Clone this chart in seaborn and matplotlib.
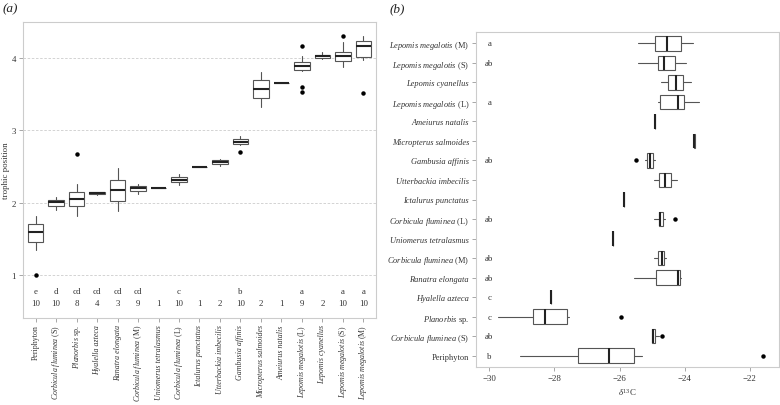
import matplotlib
matplotlib.use("Agg")
import matplotlib.pyplot as plt
import seaborn as sns

# taxa, in the order of panel (a) left to right / panel (b) bottom to top
taxa = [
    "Periphyton",
    r"Corbicula fluminea $\mathrm{(S)}$",
    r"Planorbis $\mathrm{sp.}$",
    "Hyalella azteca",
    "Ranatra elongata",
    r"Corbicula fluminea $\mathrm{(M)}$",
    "Uniomerus tetralasmus",
    r"Corbicula fluminea $\mathrm{(L)}$",
    "Ictalurus punctatus",
    "Utterbackia imbecilis",
    "Gambusia affinis",
    "Micropterus salmoides",
    "Ameiurus natalis",
    r"Lepomis megalotis $\mathrm{(L)}$",
    "Lepomis cyanellus",
    r"Lepomis megalotis $\mathrm{(S)}$",
    r"Lepomis megalotis $\mathrm{(M)}$",
]
n_obs = [10, 10, 8, 4, 3, 9, 1, 10, 1, 2, 10, 2, 1, 9, 2, 10, 10]
tp_letters = ["e", "d", "cd", "cd", "cd", "cd", "", "c", "", "", "b", "", "", "a", "", "a", "a"]
c13_letters = ["b", "ab", "c", "c", "ab", "ab", "", "ab", "", "", "ab", "", "", "a", "", "ab", "a"]

# trophic position box statistics
tp_med = [1.59, 2.01, 2.055, 2.128, 2.17, 2.197, 2.207, 2.317, 2.483, 2.555, 2.836, 3.563, 3.65, 3.884, 4.022, 4.022, 4.165]
tp_q1 = [1.45, 1.955, 1.953, 2.115, 2.027, 2.165, 2.207, 2.28, 2.483, 2.528, 2.814, 3.443, 3.65, 3.834, 3.995, 3.95, 4.008]
tp_q3 = [1.71, 2.04, 2.146, 2.14, 2.317, 2.225, 2.207, 2.353, 2.483, 2.583, 2.873, 3.687, 3.65, 3.945, 4.04, 4.083, 4.234]
tp_lo = [1.35, 1.89, 1.815, 2.11, 1.88, 2.12, 2.207, 2.243, 2.483, 2.51, 2.80, 3.324, 3.65, 3.82, 3.977, 3.876, 3.96]
tp_hi = [1.81, 2.08, 2.26, 2.15, 2.47, 2.26, 2.207, 2.395, 2.483, 2.60, 2.924, 3.80, 3.65, 4.02, 4.07, 4.22, 4.29]
tp_out = [[1.0], [], [2.667], [], [], [], [], [], [], [], [2.69], [], [], [4.16, 3.60, 3.53], [], [4.29], [3.51]]

# delta 13C box statistics
c13_med = [-26.33, -24.96, -28.29, -28.12, -24.20, -24.69, -26.21, -24.76, -25.87, -24.60, -25.06, -23.70, -24.90, -24.22, -24.27, -24.64, -24.55]
c13_q1 = [-27.29, -24.99, -28.67, -28.12, -24.88, -24.83, -26.21, -24.80, -25.87, -24.78, -25.17, -23.72, -24.90, -24.75, -24.50, -24.83, -24.90]
c13_q3 = [-25.56, -24.92, -27.63, -28.12, -24.16, -24.65, -26.21, -24.66, -25.87, -24.42, -24.98, -23.68, -24.90, -24.01, -24.04, -24.30, -24.11]
c13_lo = [-29.05, -25.00, -29.72, -28.12, -25.56, -24.94, -26.21, -24.94, -25.87, -24.95, -25.23, -23.72, -24.90, -24.83, -24.73, -25.43, -25.45]
c13_hi = [-25.32, -24.80, -27.56, -28.12, -24.12, -24.56, -26.21, -24.62, -25.87, -24.25, -24.90, -23.68, -24.90, -23.56, -23.82, -23.97, -23.76]
c13_out = [[-21.60], [-24.70], [-25.97], [], [], [], [], [-24.31], [], [], [-25.49], [], [], [], [], [], []]

sns.set_theme(style="white")
plt.rcParams["font.family"] = ["Liberation Serif", "DejaVu Serif"]
plt.rcParams["mathtext.fontset"] = "custom"
plt.rcParams["mathtext.rm"] = "Liberation Serif"
plt.rcParams["mathtext.it"] = "Liberation Serif:italic"
plt.rcParams["mathtext.bf"] = "Liberation Serif:bold"

fs = 6.4
txt = "#333333"
edge = "#555555"
frame = "#cccccc"


def stats(med, q1, q3, lo, hi, out):
    return [dict(med=m, q1=a, q3=b, whislo=l, whishi=h, fliers=f)
            for m, a, b, l, h, f in zip(med, q1, q3, lo, hi, out)]


box_kw = dict(
    widths=0.75, patch_artist=True, showcaps=False,
    boxprops=dict(facecolor="white", edgecolor=edge, linewidth=0.8),
    whiskerprops=dict(color=edge, linewidth=0.8),
    medianprops=dict(color="#222222", linewidth=1.5, solid_capstyle="butt"),
    flierprops=dict(marker="o", markerfacecolor="black", markeredgecolor="black", markersize=2.2),
)

fig = plt.figure(figsize=(7.8, 4.06), dpi=100)
ax1 = fig.add_axes([23 / 780, 1 - 319 / 406, 353 / 780, 296 / 406])
ax2 = fig.add_axes([476 / 780, 1 - 368 / 406, 302.5 / 780, 335 / 406])

pos = list(range(len(taxa)))

# (a) trophic position
for y in [1, 2, 3, 4]:
    ax1.axhline(y, color="#cccccc", linestyle=(0, (3, 2)), linewidth=0.6, zorder=0)
ax1.bxp(stats(tp_med, tp_q1, tp_q3, tp_lo, tp_hi, tp_out), positions=pos, **box_kw)
for i in pos:
    ax1.text(i, 0.78, tp_letters[i], ha="center", va="center", fontsize=fs, color=txt)
    ax1.text(i, 0.62, str(n_obs[i]), ha="center", va="center", fontsize=fs, color=txt)
ax1.set_xlim(-0.62, 16.62)
ax1.set_ylim(0.407, 4.49)
ax1.set_yticks([1, 2, 3, 4])
ax1.set_xticks(pos)
ax1.set_xticklabels(taxa, rotation=90, ha="center", va="top")
fig.text(6 / 780, 1 - 171 / 406, "trophic position", rotation=90, fontsize=fs,
         color=txt, ha="center", va="center")

# (b) delta 13C
ax2.bxp(stats(c13_med, c13_q1, c13_q3, c13_lo, c13_hi, c13_out), positions=pos,
        orientation="horizontal", **box_kw)
for i in pos:
    ax2.text(-30, i, c13_letters[i], ha="center", va="center", fontsize=fs, color=txt)
ax2.set_ylim(-0.58, 16.58)
ax2.set_xlim(-30.41, -21.12)
ax2.set_xticks([-30, -28, -26, -24, -22])
ax2.set_yticks(pos)
ax2.set_yticklabels(taxa)
ax2.set_xlabel(r"$\delta^{13}$C", fontsize=fs, color=txt, labelpad=3)

for ax in (ax1, ax2):
    for s in ax.spines.values():
        s.set_color(frame)
        s.set_linewidth(0.8)
    ax.tick_params(axis="both", labelsize=fs, labelcolor=txt, color="#999999",
                   length=3, width=0.6, pad=2, bottom=True, left=True)
ax1.tick_params(axis="x", pad=1.5)

for lab in ax1.get_xticklabels():
    lab.set_fontsize(5.7)
for lab in ax2.get_yticklabels():
    lab.set_fontsize(6.0)
for lab in ax1.get_xticklabels() + ax2.get_yticklabels():
    if lab.get_text() != "Periphyton":
        lab.set_fontstyle("italic")

fig.text(3 / 780, 1 - 9 / 406, "(a)", fontsize=9.5, style="italic", va="center", color="#222222")
fig.text(390 / 780, 1 - 9 / 406, "(b)", fontsize=9.5, style="italic", va="center", color="#222222")

fig.savefig("out.png", dpi=100)
